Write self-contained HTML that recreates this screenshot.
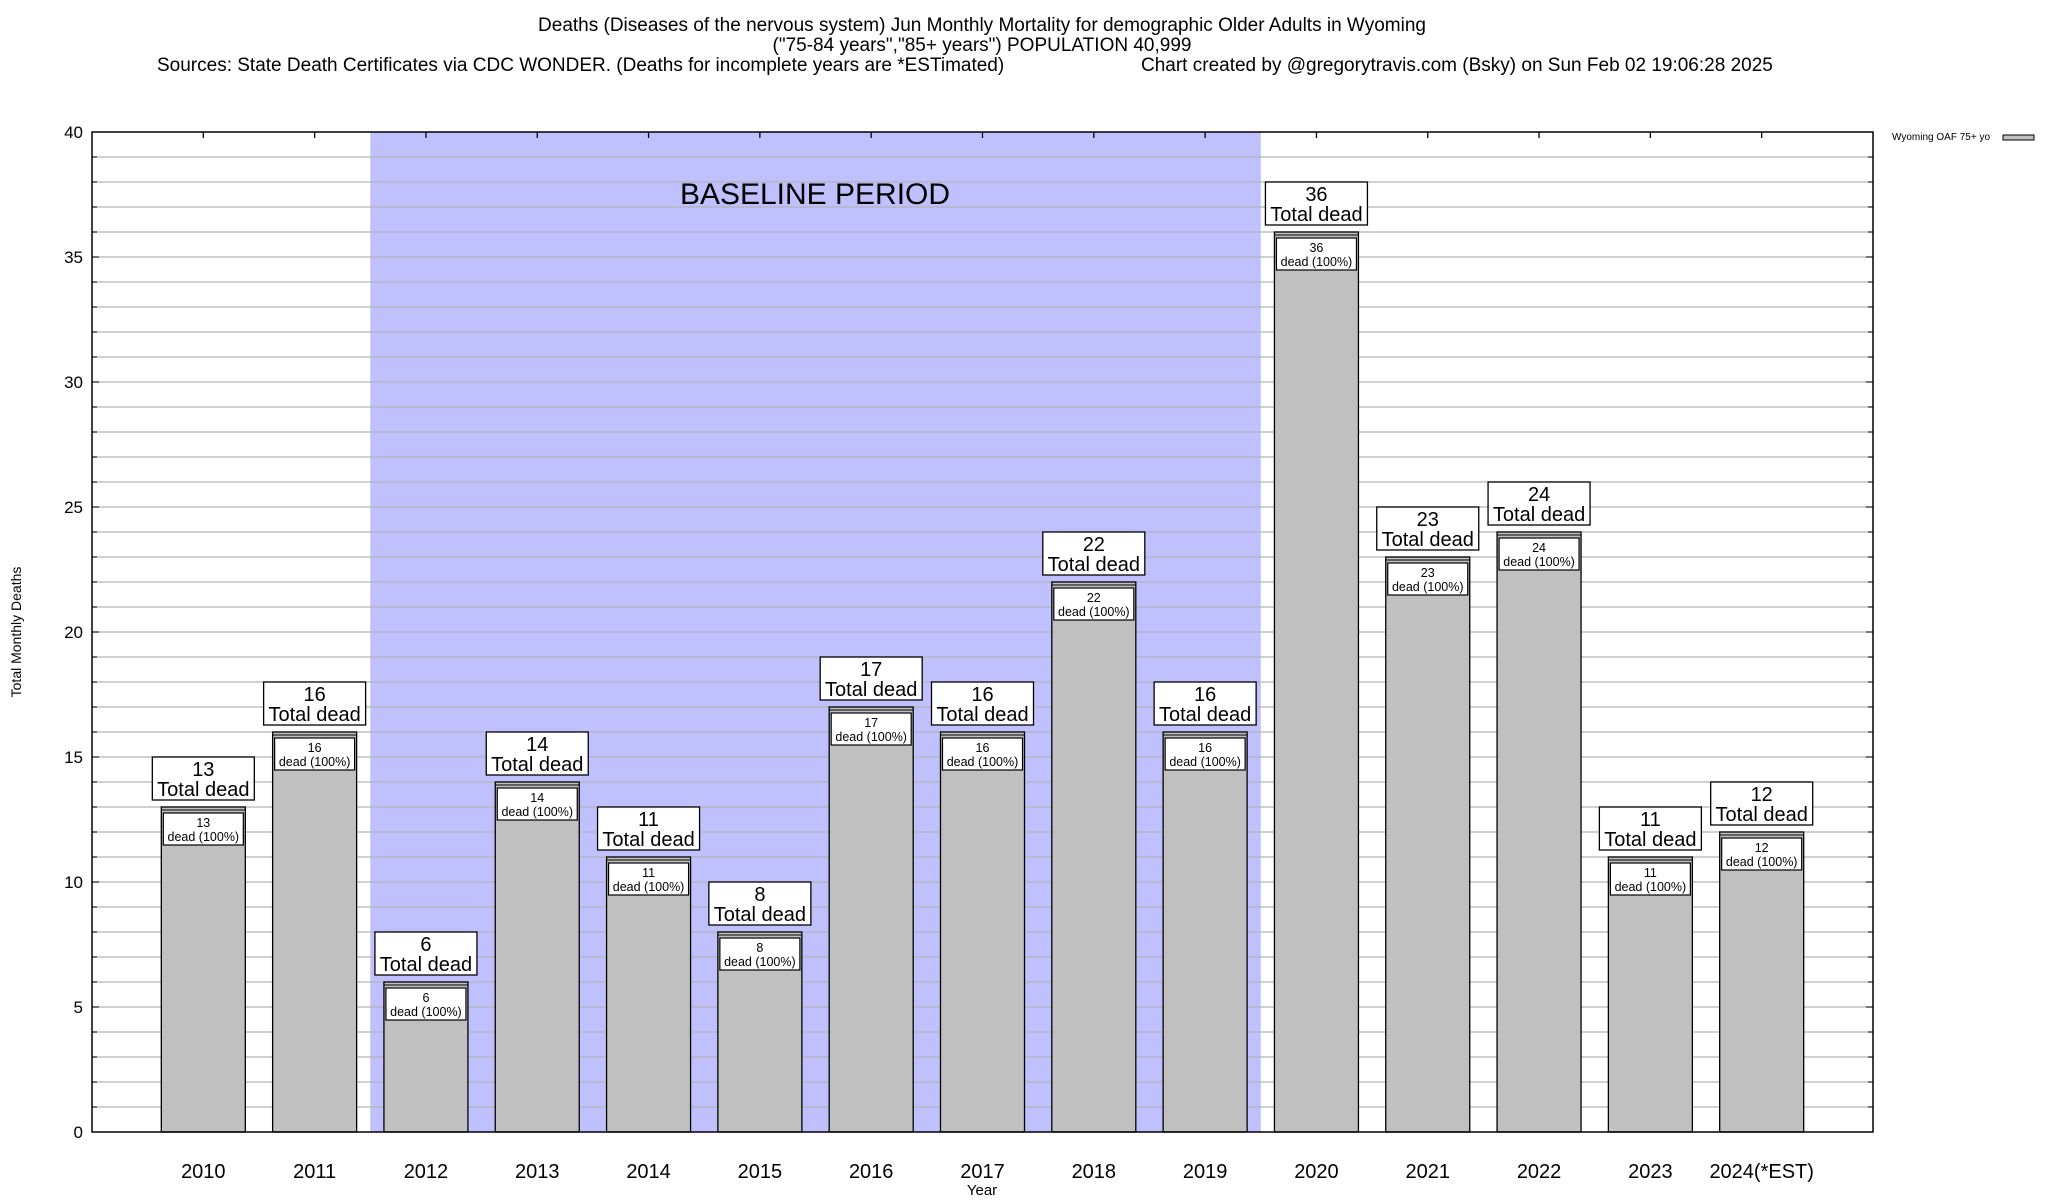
<!DOCTYPE html>
<html><head><meta charset="utf-8"><style>
body{margin:0;background:#fff;}
svg{display:block;font-family:"Liberation Sans",sans-serif;}
</style></head><body>
<svg id="chart" width="2048" height="1200" viewBox="0 0 2048 1200">
<g font-size="19" fill="#000">
<text x="982" y="31" text-anchor="middle">Deaths (Diseases of the nervous system) Jun Monthly Mortality for demographic Older Adults in Wyoming</text>
<text x="982" y="51" text-anchor="middle">("75-84 years","85+ years") POPULATION 40,999</text>
<text x="157" y="71">Sources: State Death Certificates via CDC WONDER. (Deaths for incomplete years are *ESTimated)</text>
<text x="1141" y="71">Chart created by @gregorytravis.com (Bsky) on Sun Feb 02 19:06:28 2025</text>
</g>
<g id="plot"></g>
<text x="982" y="1195" text-anchor="middle" font-size="15">Year</text>
<text x="0" y="0" transform="translate(21,632) rotate(-90)" text-anchor="middle" font-size="14">Total Monthly Deaths</text>
<g>
<text x="1892" y="140" font-size="10">Wyoming OAF 75+ yo</text>
<rect x="2003" y="135" width="31" height="5" fill="#c0c0c0" stroke="#000" stroke-width="1"/>
</g>
</svg>
<script>
const categories=["2010","2011","2012","2013","2014","2015","2016","2017","2018","2019","2020","2021","2022","2023","2024(*EST)"];
const deaths=[13,16,6,14,11,8,17,16,22,16,36,23,24,11,12];
const yTicks=[0,5,10,15,20,25,30,35,40];
const baselineStart=1.5, baselineEnd=9.5;
const L=92,R=1873,T=132,B=1132;
const NS="http://www.w3.org/2000/svg";
const g=document.getElementById('plot');
function x(i){return L+(R-L)*(i+1)/16;}
function y(v){return B-(B-T)*v/40;}
function mk(tag,attrs,parent){const e=document.createElementNS(NS,tag);for(const k in attrs)e.setAttribute(k,attrs[k]);(parent||g).appendChild(e);return e;}
// baseline region
let br=mk('rect',{x:x(baselineStart),y:T,width:x(baselineEnd)-x(baselineStart),height:B-T,fill:'#c0c0ff'});


// grid
for(let v=1;v<40;v++){
 let ln=mk('line',{x1:L,x2:R,y1:y(v),y2:y(v),stroke:'#b4b4b4','stroke-width':1.3});
 
 
 mk('line',{x1:L,x2:L+(v%5?5:7),y1:y(v),y2:y(v),stroke:'#000','stroke-width':1});
 mk('line',{x1:R,x2:R-(v%5?5:7),y1:y(v),y2:y(v),stroke:'#000','stroke-width':1});
}
let bt=mk('text',{x:815,y:204,'font-size':30,'text-anchor':'middle'});
bt.textContent='BASELINE PERIOD';


yTicks.forEach(v=>{
 let t=mk('text',{x:L-9,y:y(v)+6,'font-size':17,'text-anchor':'end'});
 t.textContent=v;
 
 
});
const bw=84;
categories.forEach((c,i)=>{
 const cx=x(i),v=deaths[i],top=y(v);
 mk('line',{x1:cx,x2:cx,y1:T,y2:T+6,stroke:'#000','stroke-width':1.3});
 let b=mk('rect',{x:cx-bw/2,y:top,width:bw,height:B-top,fill:'#c0c0c0',stroke:'#000','stroke-width':1.3});
 
 
 mk('line',{x1:cx-bw/2,x2:cx+bw/2,y1:top+3,y2:top+3,stroke:'#000','stroke-width':1});
 let ib=mk('rect',{x:cx-40,y:top+6,width:80,height:32,fill:'#fff',stroke:'#000','stroke-width':1.2});
 
 
 let t1=mk('text',{x:cx,y:top+20,'font-size':12.5,'text-anchor':'middle'});t1.textContent=v;
 let t2=mk('text',{x:cx,y:top+34,'font-size':12.5,'text-anchor':'middle'});t2.textContent='dead (100%)';
 let ob=mk('rect',{x:cx-51,y:top-50,width:102,height:43,fill:'#fff',stroke:'#000','stroke-width':1.3});
 
 
 let t3=mk('text',{x:cx,y:top-31,'font-size':20,'text-anchor':'middle'});t3.textContent=v;
 let t4=mk('text',{x:cx,y:top-11,'font-size':20,'text-anchor':'middle'});t4.textContent='Total dead';
 let xl=mk('text',{x:cx,y:1178,'font-size':20,'text-anchor':'middle'});
 xl.textContent=c;
 
 
});
let fr=mk('rect',{x:L,y:T,width:R-L,height:B-T,fill:'none',stroke:'#000','stroke-width':1.5});


</script>
</body></html>
